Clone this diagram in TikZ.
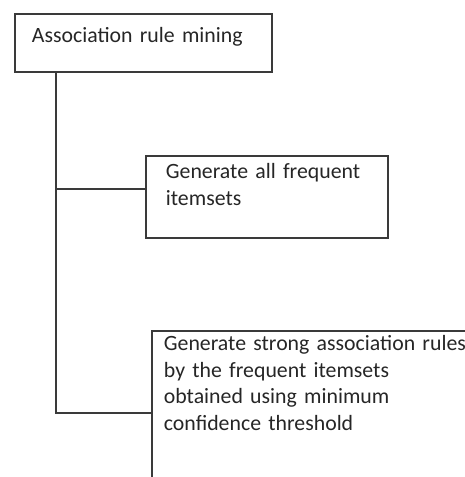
\documentclass[tikz,border=0pt]{standalone}
\usepackage{fontspec}
\setmainfont{Carlito}
\definecolor{BoxGray}{HTML}{3A3A3A}
\definecolor{TextGray}{HTML}{262626}
\usetikzlibrary{positioning}

\begin{document}
\begin{tikzpicture}[x=0.5pt, y=-0.5pt,
      stepbox/.style={draw=BoxGray, line width=0.9pt, anchor=north west,
         align=left, inner ysep=0pt, text=TextGray,
         font=\fontsize{10.9}{13.2}\selectfont},
      link/.style={draw=BoxGray, line width=0.8pt}]
            % Canvas
            \useasboundingbox (0,0) rectangle (465,477);
            \clip (0,0) rectangle (465,477);
            % Root box
            \node[stepbox, inner xsep=8.5pt, text width=111.5pt,
               text height=14.5pt, text depth=14.5pt] (root) at (14,13)
               {Association rule mining};
            % First step
            \node[stepbox, inner xsep=10pt, text width=101pt,
               text height=11.5pt, text depth=29.5pt] (freq) at (145,155)
               {Generate all frequent\\itemsets};
            % Second step (runs past the edge)
            \node[stepbox, inner xsep=6pt, text width=158pt,
               text height=10pt, text depth=70pt] (rules) at (151,330)
               {Generate strong association rules\\by the frequent itemsets\\
                obtained using minimum\\confidence threshold};
            % Connectors
            \coordinate (trunk) at ([xshift=21pt]root.south west);
            \coordinate (freqin) at ([yshift=-17pt]freq.north west);
            \coordinate (rulesin) at ([yshift=-41.5pt]rules.north west);
            \draw[link] (trunk) |- (rulesin);
            \draw[link] (trunk |- freqin) -- (freqin);
         \end{tikzpicture}
\end{document}
